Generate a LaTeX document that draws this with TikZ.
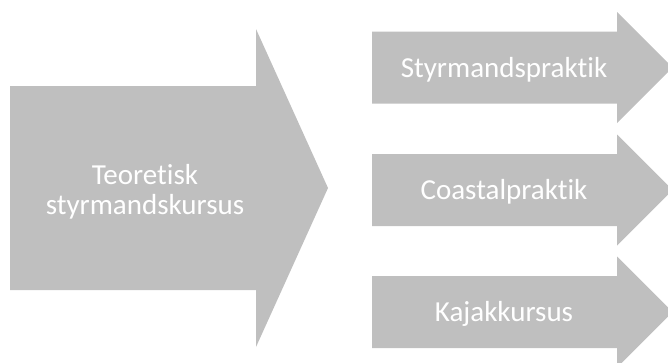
\documentclass[tikz,border=0pt]{standalone}
\usepackage{fontspec}
\setmainfont{Carlito}[Ligatures=NoCommon]
\begin{document}
\begin{tikzpicture}[
	x=1pt, y=-1pt,
	shaft/.style = {fill=gray!50!white, draw=none},
	label/.style = {text=white, inner sep=0pt, font=\fontsize{29}{30}\selectfont}
]

\useasboundingbox (0,0) rectangle (668,362);
\clip (0,0) rectangle (668,362);

% big arrow on the left
\path[shaft] (10,86) -- (256,86) -- (256,29) -- (328,188)
	-- (256,347) -- (256,290) -- (10,290) -- cycle;
\node[label, align=center] (teo) at (145,192) {Teoretisk\\styrmandskursus};

% three small arrows on the right
\foreach \y/\name/\txt in {67.5/styr/Styrmandspraktik, 190/coast/Coastalpraktik, 312/kajak/Kajakkursus} {
	\path[shaft] (372,\y-36) -- (617,\y-36) -- (617,\y-55.5) -- (672.5,\y)
		-- (617,\y+55.5) -- (617,\y+36) -- (372,\y+36) -- cycle;
	\node[label, anchor=base] (\name) at (504,\y+9.5) {\txt};
}

\end{tikzpicture}
\end{document}
